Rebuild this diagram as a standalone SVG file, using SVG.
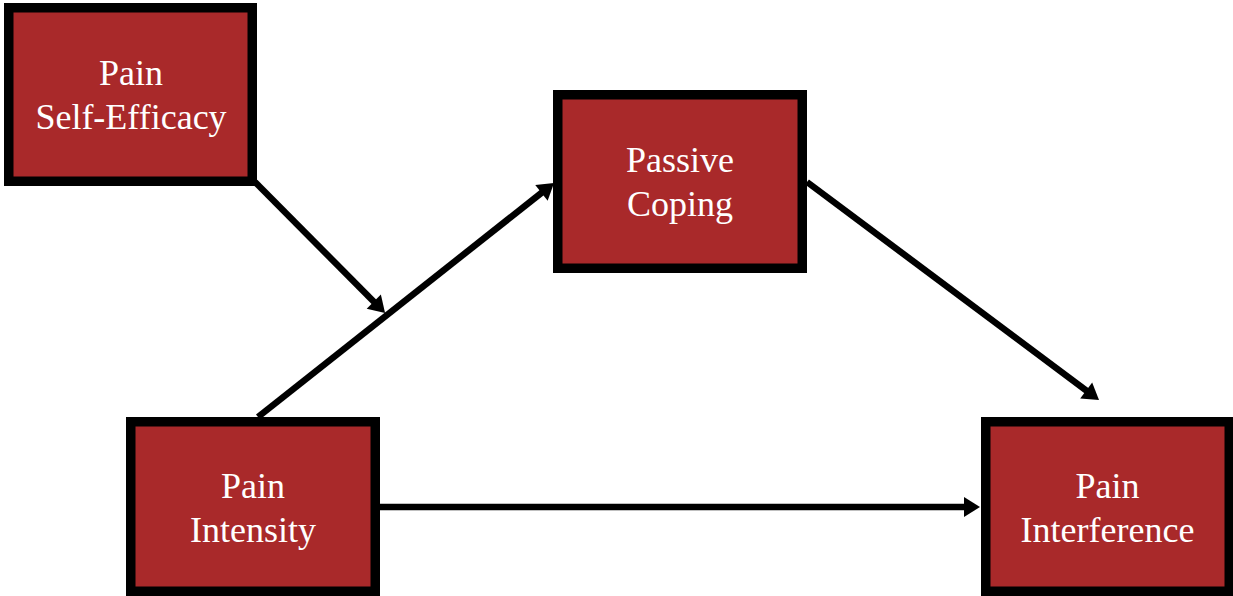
<svg xmlns="http://www.w3.org/2000/svg" width="1233" height="596" viewBox="0 0 1233 596">
  <style>
    .box { fill: #A9292A; stroke: #000; stroke-width: 9.5; }
    .label { font-family: "Liberation Serif", "Times New Roman", serif; font-size: 36px; fill: #fff; text-anchor: middle; }
    .edge { stroke: #000; stroke-width: 6.5; fill: none; marker-end: url(#arrow); }
  </style>
  <defs>
    <marker id="arrow" markerUnits="userSpaceOnUse" markerWidth="18" markerHeight="22" refX="4" refY="10" orient="auto" overflow="visible">
      <path d="M0,0 L16,10 L0,20 z" fill="#000"/>
    </marker>
  </defs>
  <rect width="1233" height="596" fill="#fff"/>

  <g id="connectors">
    <line class="edge" x1="255" y1="182" x2="376.6" y2="304.5"/>
    <line class="edge" x1="258" y1="417" x2="544.6" y2="190.4"/>
    <line class="edge" x1="807" y1="182" x2="1089.4" y2="392.8"/>
    <line class="edge" x1="380" y1="507" x2="968" y2="507"/>
  </g>

  <g id="pain-self-efficacy">
    <rect class="box" x="8.75" y="7.75" width="243.5" height="173.5"/>
    <text class="label" x="131" y="85">Pain</text>
    <text class="label" x="131" y="129">Self-Efficacy</text>
  </g>

  <g id="passive-coping">
    <rect class="box" x="557.75" y="94.75" width="244.5" height="173.5"/>
    <text class="label" x="680" y="172">Passive</text>
    <text class="label" x="680" y="216">Coping</text>
  </g>

  <g id="pain-intensity">
    <rect class="box" x="130.75" y="421.75" width="244.5" height="169.5"/>
    <text class="label" x="253" y="498">Pain</text>
    <text class="label" x="253" y="542">Intensity</text>
  </g>

  <g id="pain-interference">
    <rect class="box" x="985.75" y="421.75" width="243.5" height="169.5"/>
    <text class="label" x="1107.5" y="498">Pain</text>
    <text class="label" x="1107.5" y="542">Interference</text>
  </g>
</svg>
